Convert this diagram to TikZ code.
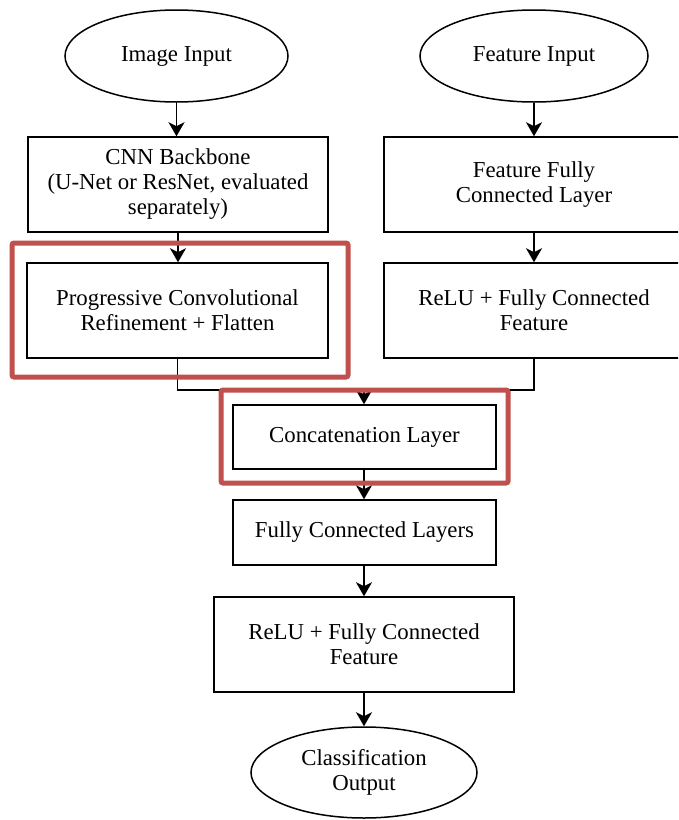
\documentclass[tikz,border=0pt]{standalone}
\usepackage{fontspec}
\setmainfont{Liberation Serif}
\usetikzlibrary{shapes.geometric,arrows.meta}
\definecolor{hlred}{HTML}{C0504D}
\begin{document}
\begin{tikzpicture}[x=1pt,y=1pt,
  base/.style={draw=black, line width=1.5pt, align=center, inner sep=2pt,
    font=\fontsize{22.8}{25}\selectfont, fill=white},
  box/.style={base, rectangle},
  oval/.style={base, ellipse},
  arr/.style={line width=1.5pt, -{Stealth[length=14pt,width=16pt,inset=4pt]}},
  ln/.style={line width=1.5pt},
  hl/.style={draw=hlred, line width=5pt, rounded corners=2pt}]
\useasboundingbox (0,0) rectangle (678,-820);
\clip (0,0) rectangle (678,-820);
\fill[white] (0,0) rectangle (678,-820);
% nodes
\node[oval, minimum width=223pt, minimum height=92pt] (img) at (176.5,-56) {Image Input};
\node[oval, minimum width=228pt, minimum height=92pt] (feat) at (534,-56) {Feature Input};
\node[box, minimum width=300pt, minimum height=95pt] (cnn) at (178,-184.5) {CNN Backbone\\(U-Net or ResNet, evaluated\\separately)};
\node[box, minimum width=300pt, minimum height=95pt] (ffc) at (534,-184.5) {Feature Fully\\Connected Layer};
\node[box, minimum width=301pt, minimum height=95pt] (prog) at (177.5,-310.5) {Progressive Convolutional\\Refinement + Flatten};
\node[box, minimum width=300pt, minimum height=95pt] (relu1) at (534,-310.5) {ReLU + Fully Connected\\Feature};
\node[box, minimum width=263pt, minimum height=64pt] (concat) at (364.5,-437) {Concatenation Layer};
\node[box, minimum width=263pt, minimum height=65pt] (fcl) at (364.5,-532.5) {Fully Connected Layers};
\node[box, minimum width=300pt, minimum height=95pt] (relu2) at (364,-644.5) {ReLU + Fully Connected\\Feature};
\node[oval, minimum width=226pt, minimum height=91pt] (cls) at (364,-772.5) {Classification\\Output};
\coordinate (m) at (364,-390);
% connectors
\draw[arr] (img.south) -- (img.south |- cnn.north);
\draw[arr] (feat.south) -- (feat.south |- ffc.north);
\draw[arr] (cnn.south) -- (cnn.south |- prog.north);
\draw[arr] (ffc.south) -- (ffc.south |- relu1.north);
\draw[ln] (prog.south) |- (m);
\draw[ln] (relu1.south) |- (m);
\draw[arr] (m) -- (m |- concat.north);
\draw[arr] (concat.south -| m) -- (m |- fcl.north);
\draw[arr] (fcl.south -| m) -- (m |- relu2.north);
\draw[arr] (relu2.south -| m) -- (m |- cls.north);
% highlights
\draw[hl] (12,-243) rectangle (348,-377);
\draw[hl] (221,-390) rectangle (508,-483);
\end{tikzpicture}
\end{document}
